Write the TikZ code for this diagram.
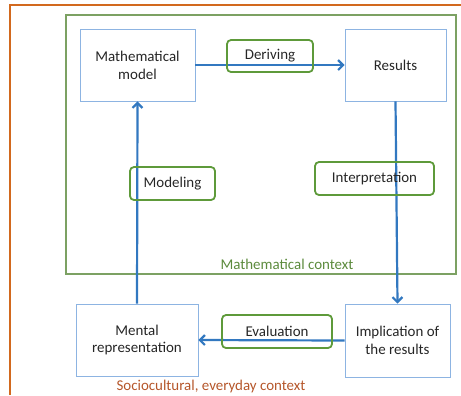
\documentclass[tikz,border=0pt]{standalone}
\usepackage{fontspec}
\setmainfont{Carlito}
\usetikzlibrary{arrows.meta}
\definecolor{frameorange}{HTML}{D2691E}
\definecolor{ctxbrown}{HTML}{B5562A}
\definecolor{ctxgreen}{HTML}{5B8A3C}
\definecolor{labelgreen}{HTML}{5E9A3A}
\definecolor{flowblue}{HTML}{3278C0}
\definecolor{boxblue}{HTML}{8DB4E2}
\definecolor{txt}{HTML}{262626}
\tikzset{
  stagebox/.style={draw=boxblue, line width=0.8bp, fill=white, text=txt,
    align=center, font=\fontsize{15}{18}\selectfont, inner sep=0pt},
  steplabel/.style={draw=labelgreen, line width=1.8bp, rounded corners=4bp,
    text=txt, font=\fontsize{15}{18}\selectfont, inner sep=0pt},
  flow/.style={draw=flowblue, line width=2.2bp,
    -{Straight Barb[length=5bp,width=10bp,line width=2.2bp]}},
}
\begin{document}
\begin{tikzpicture}[x=1bp,y=-1bp]
  \useasboundingbox (0,0) rectangle (461,395);
  % outer everyday-context frame (open to the right and bottom)
  \draw[frameorange, line width=1.5bp] (10,395) -- (10,5) -- (461,5);
  % mathematical context frame
  \draw[ctxgreen!80, line width=1.5bp] (66,15) rectangle (456,274);
  \node[text=ctxgreen, font=\fontsize{15}{18}\selectfont] (mathctx) at (287,264) {Mathematical context};
  \node[text=ctxbrown, font=\fontsize{15}{18}\selectfont] (socctx) at (211,387) {Sociocultural, everyday context};

  % stages
  \node[stagebox, minimum width=115bp, minimum height=72bp] (model) at (137.5,65) {Mathematical\\model};
  \node[stagebox, minimum width=101bp, minimum height=72bp] (results) at (395.5,65) {Results};
  \node[stagebox, minimum width=122bp, minimum height=72bp] (mental) at (137,340) {Mental\\representation};
  \node[stagebox, minimum width=105bp, minimum height=73bp] (impl) at (397.5,340.5) {Implication of\\the results};

  % transitions
  \draw[flow] (model.east) -- (results.west);
  \draw[flow] (results.south) -- (impl.north);
  \draw[flow] (impl.west) -- (mental.east);
  \draw[flow] (mental.north) -- (model.south);

  % step labels
  \node[steplabel, minimum width=86bp, minimum height=32bp] (deriving) at (270,56) {Deriving};
  \node[steplabel, minimum width=85bp, minimum height=33bp] (modeling) at (172.5,183.5) {Modeling};
  \node[steplabel, minimum width=119bp, minimum height=33bp] (interp) at (374.5,178.5) {Interpretation};
  \node[steplabel, minimum width=110bp, minimum height=33bp] (eval) at (277,331.5) {Evaluation};
\end{tikzpicture}
\end{document}
